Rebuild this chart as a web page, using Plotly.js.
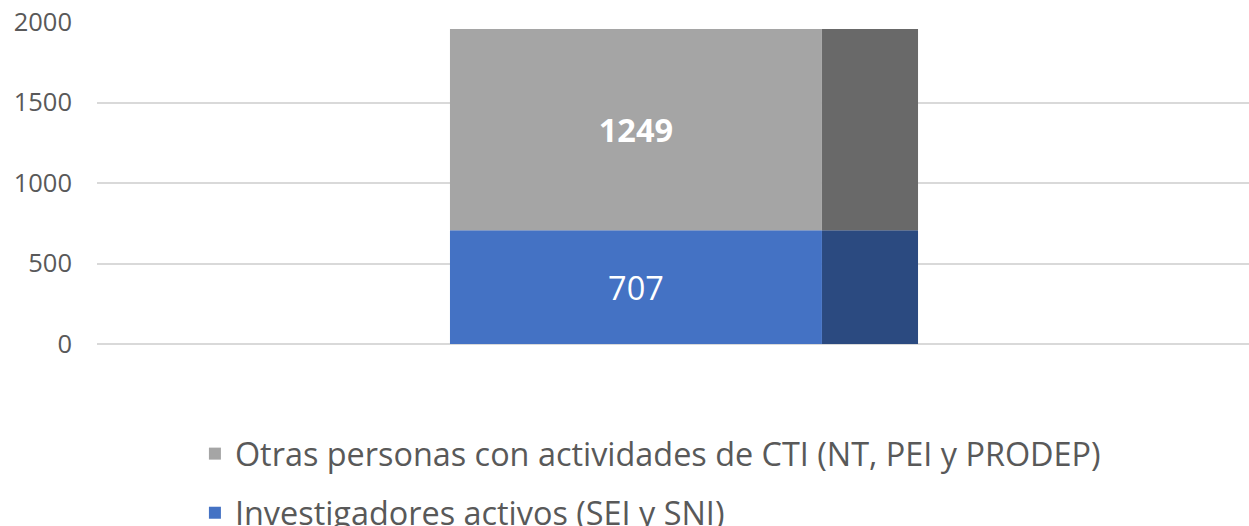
<!DOCTYPE html>
<html>
<head>
<meta charset="utf-8">
<script src="https://cdn.plot.ly/plotly-3.0.1.min.js"></script>
<style>html,body{margin:0;padding:0;background:#fff;}#chart{width:1249px;height:526px;}</style>
</head>
<body>
<div id="chart"></div>
<script>
// Data
const categories = ["Total"];
const seriesNames = ["Investigadores activos (SEI y SNI)", "Otras personas con actividades de CTI (NT, PEI y PRODEP)"];
const investigadores = [707];
const otras = [1249];
const yTicks = [0, 500, 1000, 1500, 2000];

// Styles
const frontColors = ["#4472C4", "#A5A5A5"];
const sideColors = ["#2B4A80", "#696969"];
const frontOffset = -0.3872, frontWidth = 0.6458;
const sideOffset = 0.2587, sideWidth = 0.1667;
const xPos = categories.map(() => 0);
const otrasBase = investigadores.slice();

const traces = [
  {type: "bar", name: seriesNames[0], x: xPos, y: investigadores, base: xPos.map(() => 0),
   offset: frontOffset, width: frontWidth, marker: {color: frontColors[0]},
   text: investigadores.map(String), textposition: "inside", insidetextanchor: "middle",
   textfont: {family: "Open Sans", size: 32.5, color: "#ffffff"}, hoverinfo: "skip",
   legendgroup: "a", legendrank: 2000},
  {type: "bar", name: seriesNames[1], x: xPos, y: otras, base: otrasBase,
   offset: frontOffset, width: frontWidth, marker: {color: frontColors[1]},
   text: otras.map(v => "<b>" + v + "</b>"), textposition: "inside", insidetextanchor: "middle",
   textfont: {family: "Open Sans", size: 32.5, color: "#ffffff"}, hoverinfo: "skip",
   legendgroup: "b", legendrank: 1000},
  {type: "bar", name: seriesNames[0] + " side", x: xPos, y: investigadores, base: xPos.map(() => 0),
   offset: sideOffset, width: sideWidth, marker: {color: sideColors[0]},
   showlegend: false, hoverinfo: "skip"},
  {type: "bar", name: seriesNames[1] + " side", x: xPos, y: otras, base: otrasBase,
   offset: sideOffset, width: sideWidth, marker: {color: sideColors[1]},
   showlegend: false, hoverinfo: "skip"}
];

const layout = {
  width: 1249, height: 526,
  margin: {l: 97, r: 0, t: 22, b: 181.5, autoexpand: false},
  paper_bgcolor: "#ffffff", plot_bgcolor: "#ffffff",
  barmode: "overlay",
  font: {family: "Open Sans", color: "#595959"},
  xaxis: {range: [-1, 1], showticklabels: false, showgrid: false, zeroline: false, fixedrange: true},
  yaxis: {range: [0, 2000], tickvals: yTicks, ticktext: yTicks.map(String),
    showgrid: true, gridcolor: "#D9D9D9", gridwidth: 2, zeroline: true, zerolinecolor: "#D9D9D9", zerolinewidth: 2,
    tickfont: {family: "Open Sans", size: 25.5, color: "#595959"}, ticks: "", ticklabelstandoff: 24},
  showlegend: true,
  legend: {x: 0.085, xanchor: "left", y: 0.19, yref: "container", yanchor: "top", orientation: "v",
    traceorder: "grouped", tracegroupgap: 14,
    font: {family: "Open Sans", size: 32.4, color: "#595959"}, bgcolor: "rgba(0,0,0,0)"}
};

Plotly.newPlot("chart", traces, layout, {displayModeBar: false, staticPlot: true});
</script>
</body>
</html>
